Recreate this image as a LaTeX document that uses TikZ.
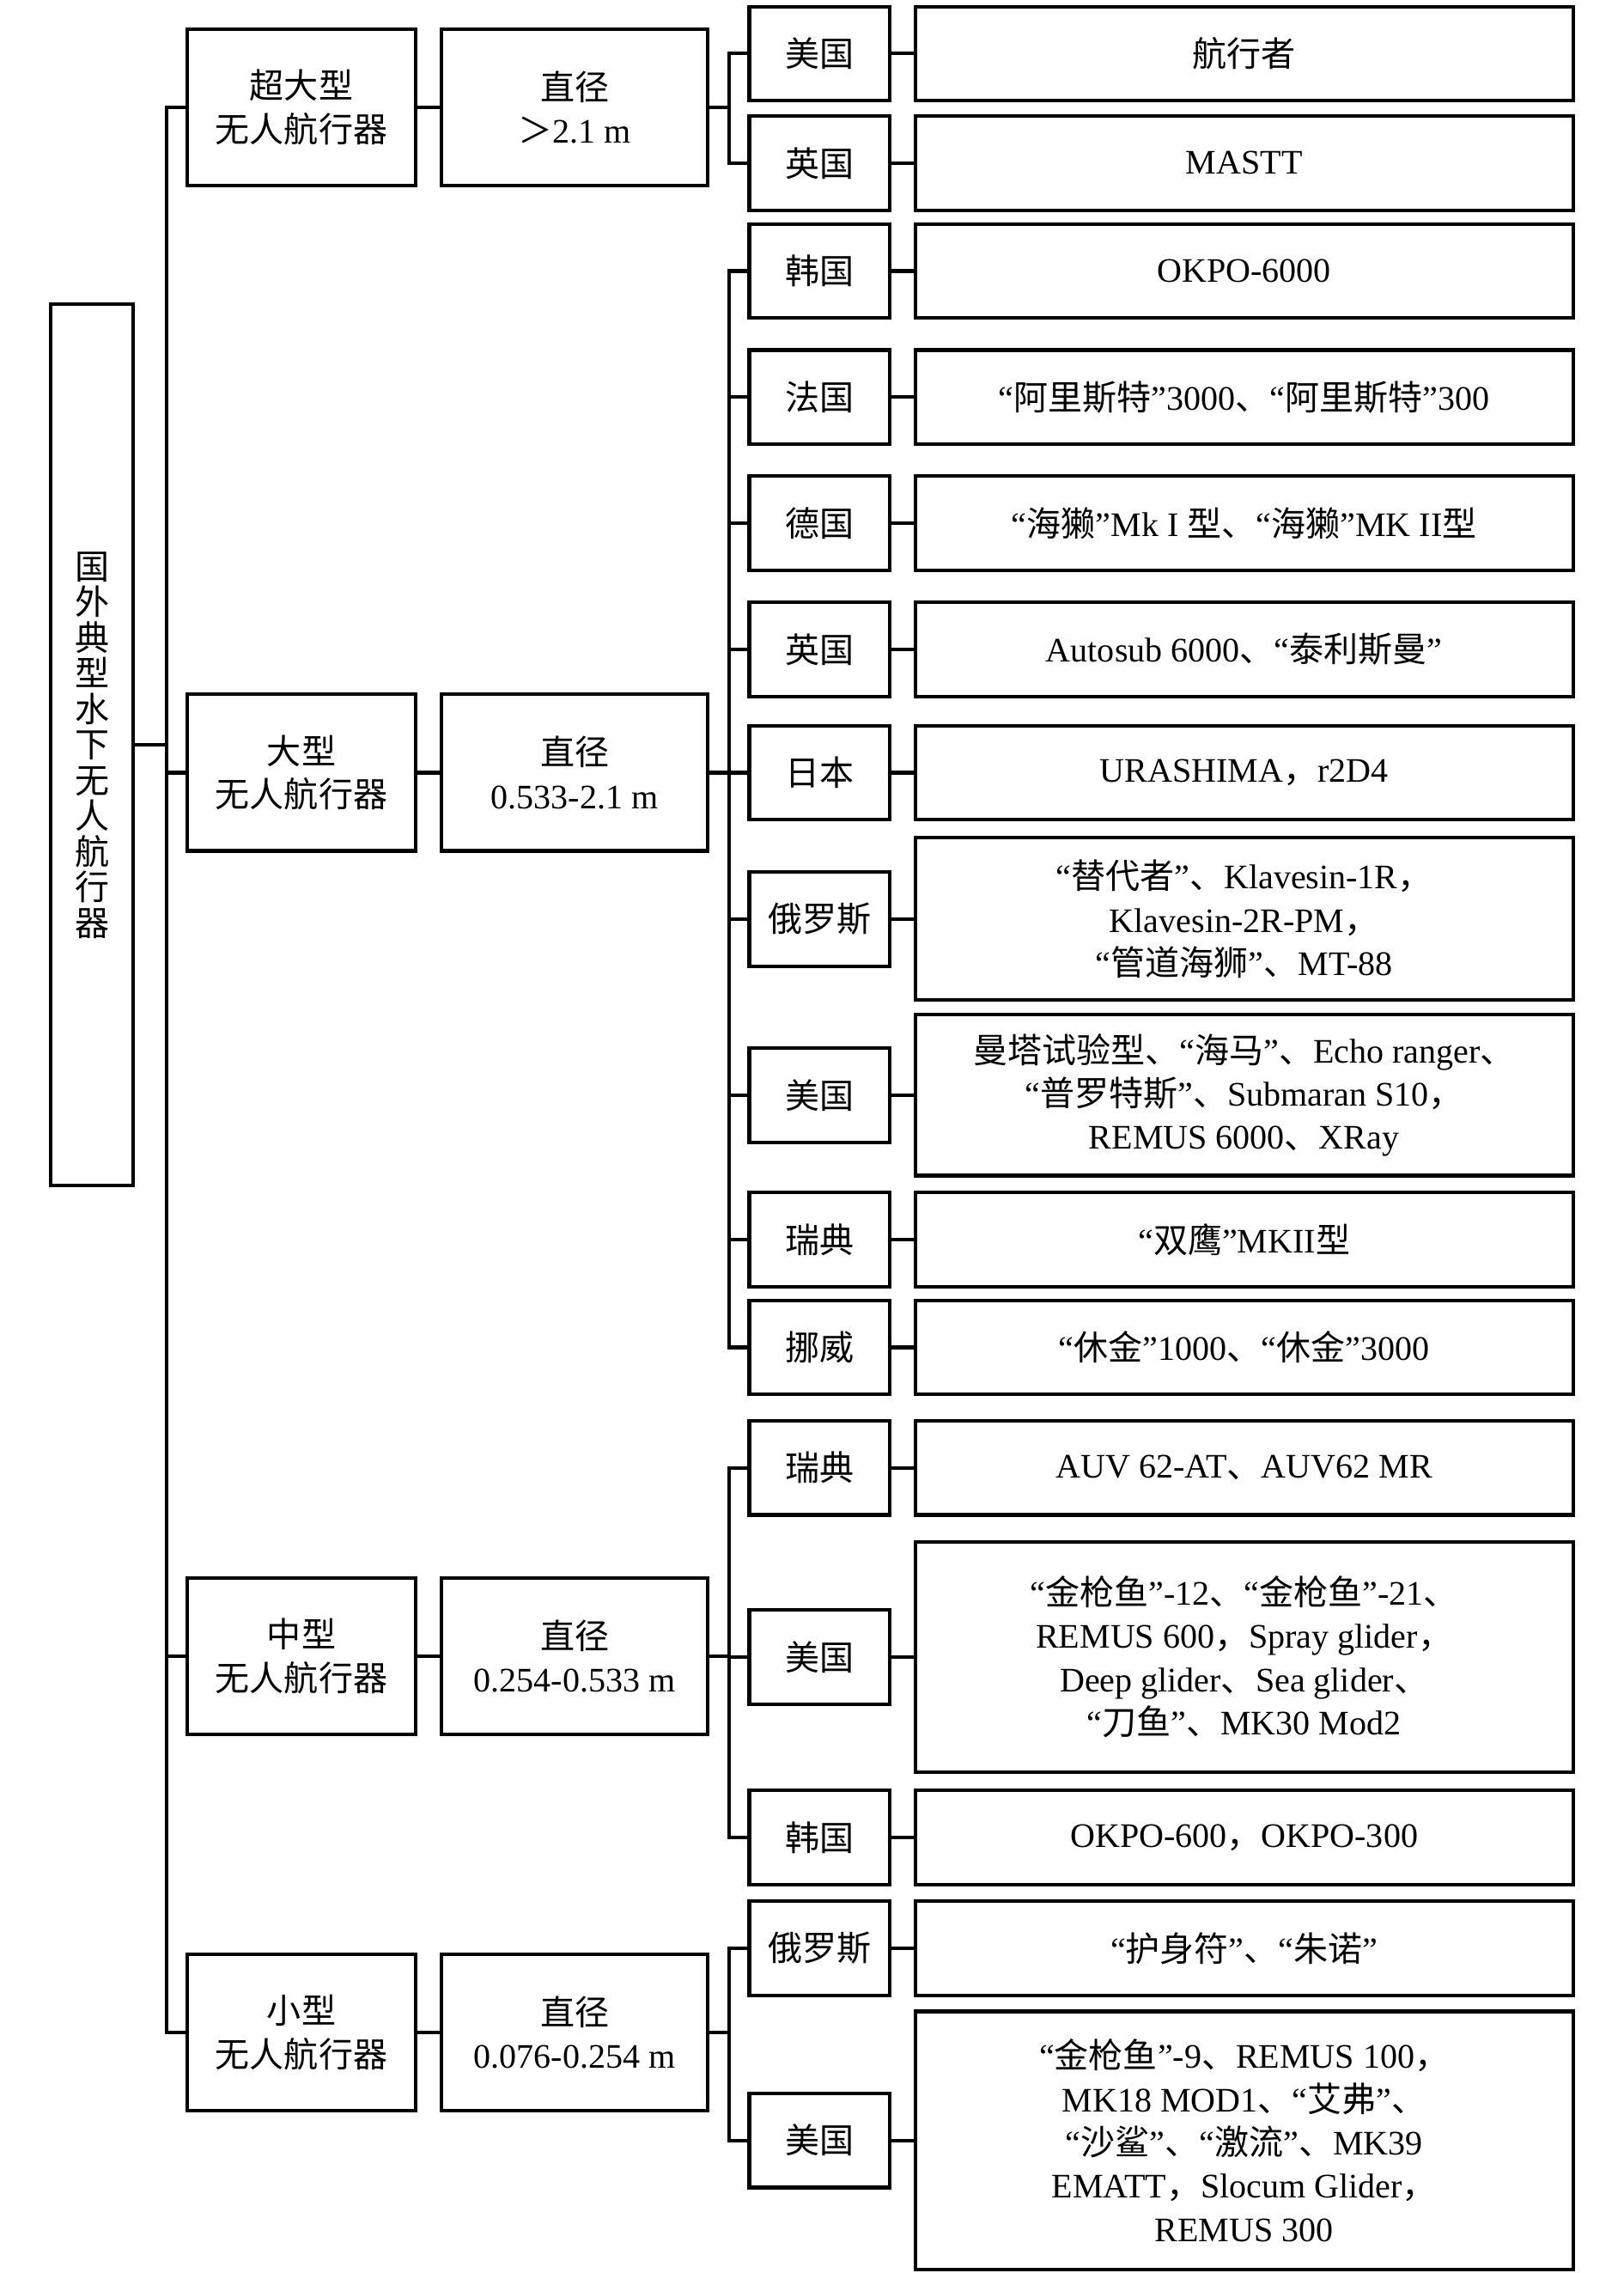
\documentclass[tikz,border=0pt]{standalone}
\usepackage{fontspec}
\setmainfont{Liberation Serif}
\newfontfamily\cjk{Noto Sans CJK SC}
\usetikzlibrary{positioning}

% switch to the CJK font for Chinese characters
\XeTeXinterchartokenstate=1
\newXeTeXintercharclass\cjkcls
\newcount\cjkcnt
\cjkcnt="3000 \loop \XeTeXcharclass\cjkcnt=\cjkcls \ifnum\cjkcnt<"303F \advance\cjkcnt by 1 \repeat
\cjkcnt="4E00 \loop \XeTeXcharclass\cjkcnt=\cjkcls \ifnum\cjkcnt<"9FFF \advance\cjkcnt by 1 \repeat
\cjkcnt="FF00 \loop \XeTeXcharclass\cjkcnt=\cjkcls \ifnum\cjkcnt<"FFEF \advance\cjkcnt by 1 \repeat
\XeTeXinterchartoks 0 \cjkcls={\cjk}
\XeTeXinterchartoks 4095 \cjkcls={\cjk}
\XeTeXinterchartoks \cjkcls 0={\rmfamily}
\XeTeXinterchartoks \cjkcls 4095={\rmfamily}

\begin{document}
\begin{tikzpicture}[line width=1.4pt,
  every node/.style={font=\fontsize{13.5}{17}\selectfont},
  box/.style={draw,align=center,inner sep=0pt},
  rootbox/.style={box,minimum width=1.14cm,minimum height=12.16cm,font=\fontsize{13.5}{14}\selectfont},
  catbox/.style={box,minimum width=3.16cm,minimum height=2.16cm},
  dimbox/.style={box,minimum width=3.68cm,minimum height=2.16cm},
  natbox/.style={box,minimum width=1.94cm,minimum height=1.3cm},
  listbox/.style={box,minimum width=9.08cm,minimum height=1.3cm}]
\useasboundingbox (0,0) rectangle (22.4,-31.36);
\node (uuv) [rootbox] at (1.27,-10.28) {国\\外\\典\\型\\水\\下\\无\\人\\航\\行\\器};
\node (c1) [catbox] at (4.16,-1.48) {超大型\\无人航行器};
\node (d1) [dimbox,right=0.3cm of c1] {直径\\＞2.1 m};
\node (c2) [catbox] at (4.16,-10.66) {大型\\无人航行器};
\node (d2) [dimbox,right=0.3cm of c2] {直径\\0.533-2.1 m};
\node (c3) [catbox] at (4.16,-22.85) {中型\\无人航行器};
\node (d3) [dimbox,right=0.3cm of c3] {直径\\0.254-0.533 m};
\node (c4) [catbox] at (4.16,-28.04) {小型\\无人航行器};
\node (d4) [dimbox,right=0.3cm of c4] {直径\\0.076-0.254 m};

\node (n1) [natbox] at (11.31,-0.74) {美国};
\node (m1) [listbox,right=0.3cm of n1] {航行者};
\node (n2) [natbox] at (11.31,-2.25) {英国};
\node (m2) [listbox,right=0.3cm of n2] {MASTT};
\node (n3) [natbox] at (11.31,-3.74) {韩国};
\node (m3) [listbox,right=0.3cm of n3] {OKPO-6000};
\node (n4) [natbox] at (11.31,-5.48) {法国};
\node (m4) [listbox,right=0.3cm of n4] {“阿里斯特”3000、“阿里斯特”300};
\node (n5) [natbox] at (11.31,-7.22) {德国};
\node (m5) [listbox,right=0.3cm of n5] {“海獭”Mk I 型、“海獭”MK II型};
\node (n6) [natbox] at (11.31,-8.96) {英国};
\node (m6) [listbox,right=0.3cm of n6] {Autosub 6000、“泰利斯曼”};
\node (n7) [natbox] at (11.31,-10.66) {日本};
\node (m7) [listbox,right=0.3cm of n7] {URASHIMA，r2D4};
\node (n8) [natbox] at (11.31,-12.68) {俄罗斯};
\node (m8) [listbox,minimum height=2.24cm,right=0.3cm of n8] {“替代者”、Klavesin-1R，\\Klavesin-2R-PM，\\“管道海狮”、MT-88};
\node (n9) [natbox] at (11.31,-15.11) {美国};
\node (m9) [listbox,minimum height=2.22cm,right=0.3cm of n9] {曼塔试验型、“海马”、Echo ranger、\\“普罗特斯”、Submaran S10，\\REMUS 6000、XRay};
\node (n10) [natbox] at (11.31,-17.10) {瑞典};
\node (m10) [listbox,right=0.3cm of n10] {“双鹰”MKII型};
\node (n11) [natbox] at (11.31,-18.59) {挪威};
\node (m11) [listbox,right=0.3cm of n11] {“休金”1000、“休金”3000};
\node (n12) [natbox] at (11.31,-20.25) {瑞典};
\node (m12) [listbox,right=0.3cm of n12] {AUV 62-AT、AUV62 MR};
\node (n13) [natbox] at (11.31,-22.86) {美国};
\node (m13) [listbox,minimum height=3.18cm,right=0.3cm of n13] {“金枪鱼”-12、“金枪鱼”-21、\\REMUS 600，Spray glider，\\Deep glider、Sea glider、\\“刀鱼”、MK30 Mod2};
\node (n14) [natbox] at (11.31,-25.35) {韩国};
\node (m14) [listbox,right=0.3cm of n14] {OKPO-600，OKPO-300};
\node (n15) [natbox] at (11.31,-26.88) {俄罗斯};
\node (m15) [listbox,right=0.3cm of n15] {“护身符”、“朱诺”};
\node (n16) [natbox] at (11.31,-29.53) {美国};
\node (m16) [listbox,minimum height=3.56cm,right=0.3cm of n16] {“金枪鱼”-9、REMUS 100，\\MK18 MOD1、“艾弗”、\\“沙鲨”、“激流”、MK39\\EMATT，Slocum Glider，\\REMUS 300};

\coordinate (tk) at (2.30,0);
\coordinate (br) at (10.06,0);
\draw (c1.west) -- (c1.west -| tk) -- (c4.west -| tk) -- (c4.west);
\draw (uuv.east) -- (uuv.east -| tk);
\draw (c2.west) -- (c2.west -| tk);
\draw (c3.west) -- (c3.west -| tk);
\draw (c1) -- (d1);
\draw (c2) -- (d2);
\draw (c3) -- (d3);
\draw (c4) -- (d4);

\draw (n1.west) -- (n1.west -| br) -- (n2.west -| br) -- (n2.west);
\draw (d1.east) -- (d1.east -| br);
\draw (n3.west) -- (n3.west -| br) -- (n11.west -| br) -- (n11.west);
\draw (d2.east) -- (d2.east -| br);
\draw (n4.west) -- (n4.west -| br);
\draw (n5.west) -- (n5.west -| br);
\draw (n6.west) -- (n6.west -| br);
\draw (n7.west) -- (n7.west -| br);
\draw (n8.west) -- (n8.west -| br);
\draw (n9.west) -- (n9.west -| br);
\draw (n10.west) -- (n10.west -| br);
\draw (n12.west) -- (n12.west -| br) -- (n14.west -| br) -- (n14.west);
\draw (d3.east) -- (d3.east -| br);
\draw (n13.west) -- (n13.west -| br);
\draw (n15.west) -- (n15.west -| br) -- (n16.west -| br) -- (n16.west);
\draw (d4.east) -- (d4.east -| br);

\draw (n1) -- (m1);
\draw (n2) -- (m2);
\draw (n3) -- (m3);
\draw (n4) -- (m4);
\draw (n5) -- (m5);
\draw (n6) -- (m6);
\draw (n7) -- (m7);
\draw (n8) -- (m8);
\draw (n9) -- (m9);
\draw (n10) -- (m10);
\draw (n11) -- (m11);
\draw (n12) -- (m12);
\draw (n13) -- (m13);
\draw (n14) -- (m14);
\draw (n15) -- (m15);
\draw (n16) -- (m16);
\end{tikzpicture}
\end{document}
